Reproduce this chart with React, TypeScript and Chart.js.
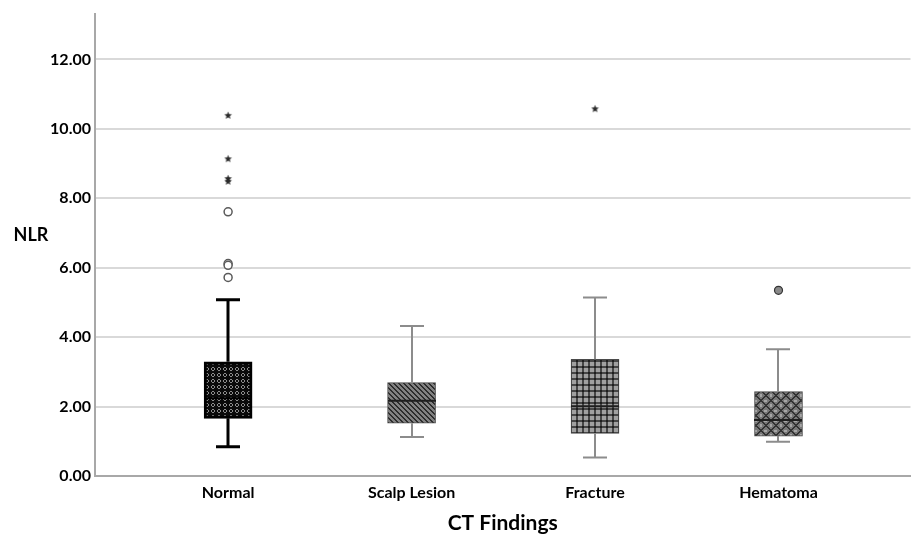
import React, { useEffect, useRef } from 'react';
import { Chart, registerables } from 'chart.js';

Chart.register(...registerables);

const categories = ['Normal', 'Scalp Lesion', 'Fracture', 'Hematoma'];
const whiskerLow = [0.84, 1.12, 0.53, 0.99];
const q1 = [1.66, 1.52, 1.23, 1.15];
const median = [2.24, 2.17, 2.01, 1.61];
const q3 = [3.29, 2.69, 3.36, 2.43];
const whiskerHigh = [5.08, 4.32, 5.14, 3.65];

// extreme outliers (stars)
const extremeCat = [1, 1, 1, 1, 3];
const extremeVal = [10.39, 9.14, 8.57, 8.49, 10.58];
// mild outliers (hollow circles)
const outlierCat = [1, 1, 1, 1];
const outlierVal = [7.61, 6.12, 6.07, 5.72];
// filled outlier
const filledCat = [4];
const filledVal = [5.35];

const yMin = 0;
const yMax = 13.32;
const yStep = 2;
const xMin = 0.2745;
const xMax = 4.7195;

const FONT = 'Lato, "Open Sans", sans-serif';

function makePattern(size: number, fn: (x: number, y: number) => [number, number, number]) {
  const c = document.createElement('canvas');
  c.width = size;
  c.height = size;
  const cx = c.getContext('2d')!;
  const img = cx.createImageData(size, size);
  for (let y = 0; y < size; y++) {
    for (let x = 0; x < size; x++) {
      const [r, g, b] = fn(x, y);
      const k = (y * size + x) * 4;
      img.data[k] = r;
      img.data[k + 1] = g;
      img.data[k + 2] = b;
      img.data[k + 3] = 255;
    }
  }
  cx.putImageData(img, 0, 0);
  return cx.createPattern(c, 'repeat')!;
}

function g(v: number): [number, number, number] {
  return [v, v, v];
}

function makeStar() {
  const c = document.createElement('canvas');
  c.width = 9;
  c.height = 9;
  const cx = c.getContext('2d')!;
  cx.fillStyle = '#2a2a2a';
  cx.beginPath();
  for (let i = 0; i < 10; i++) {
    const r = i % 2 === 0 ? 4 : 1.8;
    const a = -Math.PI / 2 + (i * Math.PI) / 5;
    const px = 4.5 + r * Math.cos(a);
    const py = 4.8 + r * Math.sin(a);
    if (i === 0) cx.moveTo(px, py);
    else cx.lineTo(px, py);
  }
  cx.closePath();
  cx.fill();
  return c;
}

const whiskerPlugin = {
  id: 'whiskers',
  afterDatasetsDraw(chart: any) {
    const { ctx, scales } = chart;
    const x = scales.x;
    const y = scales.y;
    ctx.save();
    categories.forEach((_, i) => {
      const cx = Math.round(x.getPixelForValue(i + 1));
      const main = i === 0;
      ctx.strokeStyle = main ? '#000' : '#8c8c8c';
      ctx.lineWidth = main ? 3 : 2;
      const half = 12;
      const yH = y.getPixelForValue(whiskerHigh[i]);
      const yQ3 = y.getPixelForValue(q3[i]);
      const yQ1 = y.getPixelForValue(q1[i]);
      const yL = y.getPixelForValue(whiskerLow[i]);
      ctx.beginPath();
      ctx.moveTo(cx, yH);
      ctx.lineTo(cx, yQ3);
      ctx.moveTo(cx, yQ1);
      ctx.lineTo(cx, yL);
      ctx.moveTo(cx - half, yH);
      ctx.lineTo(cx + half, yH);
      ctx.moveTo(cx - half, yL);
      ctx.lineTo(cx + half, yL);
      ctx.stroke();
      const yM = y.getPixelForValue(median[i]);
      ctx.strokeStyle = main ? '#000' : '#1e1e1e';
      ctx.lineWidth = 2;
      ctx.beginPath();
      ctx.moveTo(cx - 24, yM);
      ctx.lineTo(cx + 24, yM);
      ctx.stroke();
    });
    ctx.restore();
  },
  afterDraw(chart: any) {
    const { ctx } = chart;
    ctx.save();
    ctx.fillStyle = '#000';
    ctx.font = `bold 18px ${FONT}`;
    ctx.textAlign = 'center';
    ctx.textBaseline = 'middle';
    ctx.fillText('NLR', 31, 235);
    ctx.restore();
  },
};

export default function App() {
  const ref = useRef<HTMLCanvasElement>(null);
  useEffect(() => {
    const patNormal = makePattern(6, (px, py) => {
      const d = Math.hypot(px - 2.5, py - 2.5);
      return d > 0.9 && d < 2.0 ? g(140) : g(10);
    });
    const patScalp = makePattern(5, (px, py) => {
      const m = (((px - py) % 5) + 5) % 5;
      return m < 2 ? g(45) : g(130);
    });
    const patFracture = makePattern(6, (px, py) => {
      const a = px % 6 < 2;
      const b = py % 6 < 2;
      if (a && b) return g(30);
      if (a || b) return g(70);
      return g(160);
    });
    const patHematoma = makePattern(10, (px, py) => {
      const a = (((px + py) % 10) + 10) % 10 < 2;
      const b = (((px - py) % 10) + 10) % 10 < 2;
      if (a || b) return g(50);
      const d = Math.hypot(px - 5, py - 0) < 1.6 || Math.hypot(px - 0, py - 5) < 1.6;
      return d ? g(165) : g(120);
    });
    const star = makeStar();

    const chart = new Chart(ref.current!, {
      type: 'bar',
      data: {
        datasets: [
          {
            type: 'bar',
            data: categories.map((_, i) => ({ x: i + 1, y: [q1[i], q3[i]] })) as any,
            backgroundColor: [patNormal, patScalp, patFracture, patHematoma] as any,
            borderColor: ['#000', '#4a4a4a', '#4a4a4a', '#4a4a4a'],
            borderWidth: [3, 1, 1, 1],
            borderSkipped: false,
            barThickness: 48,
            order: 2,
          } as any,
          {
            type: 'scatter',
            data: extremeCat.map((c, i) => ({ x: c, y: extremeVal[i] })),
            pointStyle: star as any,
            pointRadius: 4,
            order: 1,
          } as any,
          {
            type: 'scatter',
            data: outlierCat.map((c, i) => ({ x: c, y: outlierVal[i] })),
            pointStyle: 'circle',
            pointRadius: 4,
            backgroundColor: '#fff',
            borderColor: '#5a5a5a',
            borderWidth: 1.5,
            order: 1,
          } as any,
          {
            type: 'scatter',
            data: filledCat.map((c, i) => ({ x: c, y: filledVal[i] })),
            pointStyle: 'circle',
            pointRadius: 4,
            backgroundColor: '#8a8a8a',
            borderColor: '#333',
            borderWidth: 1.2,
            order: 1,
          } as any,
        ],
      },
      options: {
        responsive: false,
        animation: false,
        layout: { padding: { top: 13, left: 0, right: 0, bottom: 0 } },
        plugins: { legend: { display: false }, tooltip: { enabled: false } },
        scales: {
          x: {
            type: 'linear',
            min: xMin,
            max: xMax,
            offset: false,
            grid: { display: false, drawTicks: false },
            border: { display: true, color: '#a8a8a8', width: 2 },
            afterBuildTicks: (s: any) => {
              s.ticks = categories.map((_, i) => ({ value: i + 1 }));
            },
            afterFit: (s: any) => {
              s.height = 64;
            },
            ticks: {
              autoSkip: false,
              maxRotation: 0,
              padding: 7,
              color: '#000',
              font: { family: FONT, size: 16, weight: 'bold' },
              callback: (v: any) => categories[Math.round(v) - 1] ?? '',
            },
            title: {
              display: true,
              text: 'CT Findings',
              color: '#000',
              font: { family: FONT, size: 21, weight: 'bold' },
              padding: { top: 0, bottom: 4 },
            },
          } as any,
          y: {
            type: 'linear',
            min: yMin,
            max: yMax,
            grid: { color: '#d9d9d9', lineWidth: 2, drawTicks: false },
            border: { display: true, color: '#a8a8a8', width: 2 },
            afterFit: (s: any) => {
              s.width = 95;
            },
            ticks: {
              stepSize: yStep,
              includeBounds: false,
              padding: 4,
              color: '#000',
              font: { family: FONT, size: 16, weight: 'bold' },
              callback: (v: any) => Number(v).toFixed(2),
            },
          } as any,
        },
      },
      plugins: [whiskerPlugin],
    });
    return () => chart.destroy();
  }, []);

  return (
    <div style={{ position: 'absolute', left: 0, top: 0, width: 916, height: 540, background: '#fff' }}>
      <canvas ref={ref} width={916} height={540} />
    </div>
  );
}
